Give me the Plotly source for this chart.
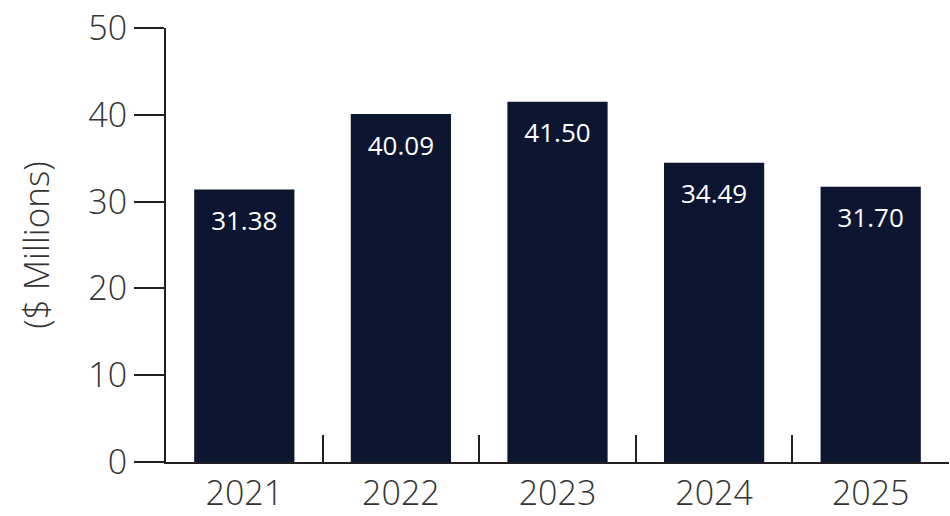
import plotly.graph_objects as go

years = ['2021', '2022', '2023', '2024', '2025']
values = [31.38, 40.09, 41.50, 34.49, 31.70]
labels = ['31.38', '40.09', '41.50', '34.49', '31.70']
y_ticks = [0, 10, 20, 30, 40, 50]

bar_color = '#0c1631'
axis_color = '#231f20'
text_color = '#333333'

fig = go.Figure()
fig.add_trace(go.Bar(
    x=years,
    y=values,
    marker_color=bar_color,
    marker_line_width=0,
    hoverinfo='skip',
))

# value labels under the top of each bar; the invisible marker just pushes the text down
fig.add_trace(go.Scatter(
    x=years,
    y=values,
    mode='markers+text',
    text=labels,
    textposition='bottom center',
    textfont=dict(family='Open Sans', size=26, color='#ffffff'),
    marker=dict(size=32, opacity=0),
    hoverinfo='skip',
    cliponaxis=False,
))

fig.update_layout(
    width=950, height=516,
    margin={'l': 166, 'r': 1, 't': 28, 'b': 52},
    paper_bgcolor='white',
    plot_bgcolor='white',
    bargap=0.36,
    showlegend=False,
)

fig.update_xaxes(
    range=[-0.5, 4.5],
    showgrid=False,
    showline=True, linecolor=axis_color, linewidth=2,
    ticks='inside', tickson='boundaries', ticklen=27,
    tickwidth=2, tickcolor=axis_color,
    tickfont=dict(family='Open Sans', size=34, color=text_color, weight=300),
)

fig.update_yaxes(
    range=[0, 50],
    tickvals=y_ticks,
    showgrid=False, zeroline=False,
    showline=True, linecolor=axis_color, linewidth=2,
    ticks='outside', ticklen=30, tickwidth=2, tickcolor=axis_color,
    tickfont=dict(family='Open Sans', size=34, color=text_color, weight=300),
    title=dict(text='($ Millions)', standoff=28,
               font=dict(family='Open Sans', size=35, color=text_color, weight=300)),
)

# drop the default page margin so the figure fills the window
fig.write_html('out.html', config={'displayModeBar': False},
               post_script="document.body.style.margin='0';")
